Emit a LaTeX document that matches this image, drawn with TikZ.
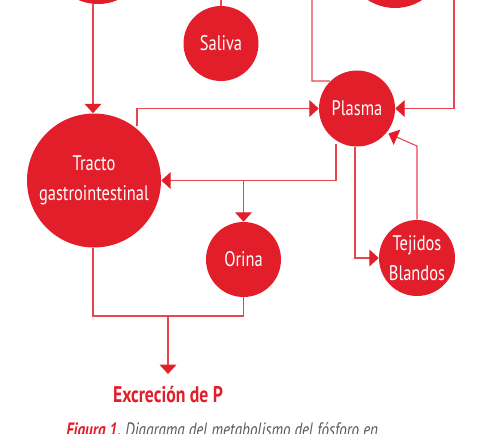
\documentclass[tikz,border=0pt]{standalone}
\usepackage{fontspec}
\setmainfont[FakeStretch=0.78]{PT Sans}
\usetikzlibrary{arrows.meta}
\definecolor{cred}{HTML}{E31E2B}
\definecolor{lred}{HTML}{E8454F}
\definecolor{capgray}{HTML}{5A5A5A}
\begin{document}
\begin{tikzpicture}[x=0.75pt,y=-0.75pt,
  blob/.style={circle,fill=cred,draw=none,inner sep=0pt,text=white,font=\fontsize{15.8}{22}\selectfont,align=center},
  link/.style={draw=lred,line width=0.8pt},
  arr/.style={link,-{Triangle[length=7pt,width=12.5pt,fill=cred,color=cred]}}]
\useasboundingbox (0,0) rectangle (493,433);
% nodes
\node[blob,minimum size=100*0.75pt] (tl) at (98,-46) {};
\node[blob,minimum size=100*0.75pt] (tr) at (395,-42) {};
\node[blob,minimum size=75*0.75pt] (sal) at (221,43.5) {Saliva};
\node[blob,minimum size=76*0.75pt] (pla) at (357,108.5) {Plasma};
\node[blob,minimum size=134*0.75pt] (gi) at (94,180.5) {Tracto\\gastrointestinal};
\node[blob,minimum size=75*0.75pt] (ori) at (243.5,259.5) {Orina};
\node[blob,minimum size=76*0.75pt] (tej) at (417,258) {Tejidos\\Blandos};
\node[text=cred,font=\bfseries\fontsize{17}{20}\selectfont] (exc) at (168,394) {Excreción de P};
\node[anchor=base west,inner sep=0pt,font=\itshape\fontsize{14.5}{16}\selectfont] (cap) at (66,436)
  {\textcolor{cred}{\bfseries Figura 1.}\ \textcolor{capgray}{Diagrama del metabolismo del fósforo en}};
% coordinates
\coordinate (tlx) at (93,0);
\coordinate (salx) at (221,0);
\coordinate (trl) at (312,0);
\coordinate (trr) at (454,0);
\coordinate (mid) at (168,316);
\coordinate (tejb) at (417,146);
% connectors
\draw[arr] (tlx |- tl.south) -- (tlx |- gi.north);
\draw[link] (sal.north) -- (salx);
\draw[link] (trl) |- (pla.north west |- 0,81) -- (intersection of pla.center--pla.north west and 0,81--1,81);
\draw[arr] (trr) |- (pla.east);
\draw[arr] (137,126) |- (pla.west);
\draw[arr] (336,144) |- (gi.east);
\draw[arr] (243.5,181) -- (ori.north);
\draw[arr] (355,146.5) |- (tej.west);
\draw[arr] (tej.north) -- (tejb) -- (388.5,133.5);
\draw[link] (93,248) |- (243.5,316);
\draw[link] (ori.south) -- (243.5,316);
\draw[arr] (mid) -- (168,374);
\end{tikzpicture}
\end{document}
